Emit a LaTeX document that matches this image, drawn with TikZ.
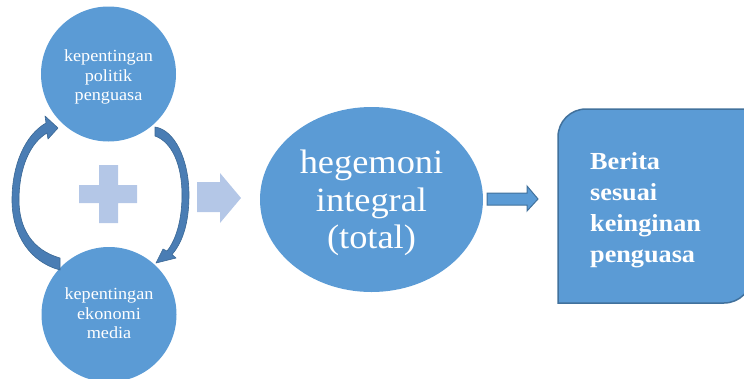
\documentclass[tikz,border=0pt]{standalone}
\usepackage{fontspec}
\setmainfont{Liberation Serif}[FakeStretch=1.07]
\usetikzlibrary{shapes.geometric}
\definecolor{mainblue}{HTML}{5B9BD5}
\definecolor{edgeblue}{HTML}{41719C}
\definecolor{lightblue}{HTML}{B4C7E7}
\definecolor{cyclefill}{HTML}{4A7DB4}
\definecolor{cycleedge}{HTML}{3A6794}
\begin{document}
\begin{tikzpicture}[x=1pt,y=1pt,
  bubble/.style={circle, fill=mainblue, minimum size=135pt, inner sep=0pt},
  smalltext/.style={text=white, align=center, inner sep=0pt, font=\fontsize{17}{19.5}\selectfont},
  bigtext/.style={text=white, align=center, inner sep=0pt, font=\fontsize{34}{37.5}\selectfont},
  boxtext/.style={text=white, align=left, anchor=west, inner sep=0pt, font=\bfseries\fontsize{24.5}{30.8}\selectfont},
  cyclearrow/.style={fill=cyclefill, draw=cycleedge, line width=0.6pt, line join=round},
  blockarrow/.style={fill=mainblue, draw=edgeblue, line width=1pt, line join=miter},
  softarrow/.style={fill=lightblue}]
\useasboundingbox (0,0) rectangle (744,-378);

% the two interest circles
\node[bubble] (pol) at (108.5,-74) {};
\node[smalltext] (poltext) at (108.5,-77) {kepentingan\\politik\\penguasa};
\node[bubble] (eko) at (109,-314.5) {};
\node[smalltext] (ekotext) at (109,-313.5) {kepentingan\\ekonomi\\media};

% plus sign between them
\fill[lightblue] (79,-185) -- (99,-185) -- (99,-165) -- (118,-165) -- (118,-185)
  -- (137,-185) -- (137,-203) -- (118,-203) -- (118,-223) -- (99,-223)
  -- (99,-203) -- (79,-203) -- cycle;

% curved arrow on the left: economy -> politics
\draw[cyclearrow] (60,-270) .. controls (30,-262) and (12,-235) .. (12,-200)
  .. controls (12,-165) and (25,-135) .. (46,-123) -- (45,-116) -- (58,-128)
  -- (48,-139) -- (47,-133) .. controls (30,-143) and (19,-168) .. (19,-200)
  .. controls (19,-228) and (32,-250) .. (60,-258) -- cycle;

% curved arrow on the right: politics -> economy
\draw[cyclearrow] (155,-127) .. controls (175,-130) and (189,-160) .. (189,-195)
  .. controls (189,-222) and (183,-242) .. (172,-254.5) -- (176,-258) -- (156,-263)
  -- (163,-249) -- (167,-251) .. controls (176,-240) and (182,-220) .. (182,-195)
  .. controls (182,-165) and (172,-142) .. (155,-136) -- cycle;

% light block arrow towards the hegemony ellipse
\fill[softarrow] (197,-182) -- (220,-182) -- (220,-173) -- (241,-198)
  -- (220,-223) -- (220,-212) -- (197,-212) -- cycle;

% hegemony ellipse
\node[ellipse, fill=mainblue, minimum width=223pt, minimum height=185pt, inner sep=0pt] (heg) at (371.5,-199.5) {};
\node[bigtext] (hegtext) at (371.5,-203) {hegemoni\\integral\\(total)};

% block arrow towards the result box
\draw[blockarrow] (487,-193) -- (527,-193) -- (527,-186) -- (538,-199)
  -- (527,-211) -- (527,-205) -- (487,-205) -- cycle;

% result box with two rounded diagonal corners
\draw[fill=mainblue, draw=edgeblue, line width=1.5pt] (558,-303) -- (558,-137)
  arc[start angle=180, end angle=90, radius=28] -- (752,-109) -- (752,-275)
  arc[start angle=0, end angle=-90, radius=28] -- cycle;
\node[boxtext] (berita) at (590,-210) {Berita\\sesuai\\keinginan\\penguasa};
\end{tikzpicture}
\end{document}
